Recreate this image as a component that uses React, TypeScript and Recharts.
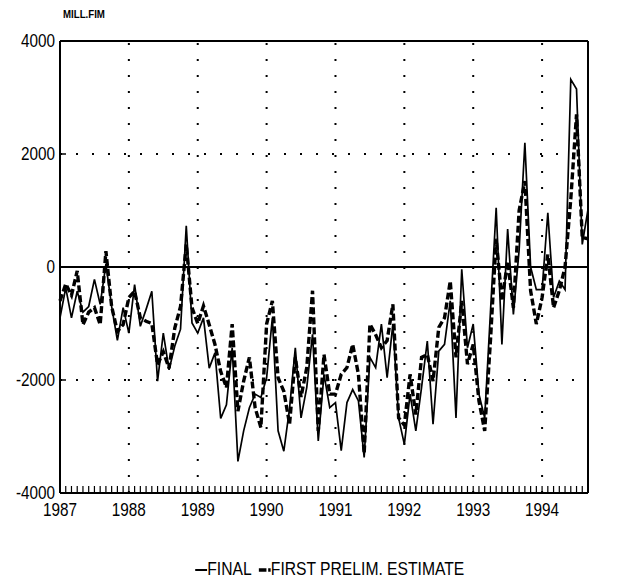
import React from 'react';
import { LineChart, Line, XAxis, YAxis, ReferenceLine, Legend } from 'recharts';

const years = ['1987', '1988', '1989', '1990', '1991', '1992', '1993', '1994'];

// monthly, Jan 1987 .. Sep 1994, mill. FIM
const finalValues = [
  -900, -370, -900, -430, -800, -700, -220, -660, 50, -700, -1300, -720,
  -1170, -310, -1050, -750, -430, -2020, -1170, -1820, -1400, -1100, 730, -990,
  -1170, -900, -1790, -1520, -2680, -2440, -1430, -3440, -2900, -2490, -2250, -2310,
  -1960, -900, -2900, -3260, -2500, -1430, -2670, -2130, -1190, -3080, -1900, -2490,
  -2400, -3250, -2400, -2170, -2370, -3370, -1600, -1780, -1010, -1960, -1010, -2670,
  -3140, -2250, -2900, -2130, -1310, -2780, -1490, -1370, -600, -2670, -40, -1430,
  -1010, -2250, -2670, -800, 1050, -1370, 670, -840, 300, 2200, 0, -400,
  -400, 960, -540, -250, -400, 3320, 3150, 400, 1020,
];

const prelimValues = [
  -600, -300, -500, -70, -1020, -800, -720, -1020, 280, -700, -1140, -1020,
  -540, -430, -900, -960, -1000, -1730, -1500, -1790, -1080, -700, 400, -720,
  -1000, -690, -1020, -1370, -1850, -2130, -1010, -2550, -2020, -1600, -2490, -2840,
  -1010, -600, -1960, -2200, -2780, -1600, -2300, -1780, -420, -2900, -1550, -2250,
  -2250, -1900, -1780, -1370, -1900, -3300, -1010, -1200, -1430, -1300, -660, -2670,
  -2800, -1900, -2610, -1600, -1550, -2020, -1070, -900, -250, -1600, -600, -1720,
  -1370, -2370, -2900, -1310, 500, -600, 100, -720, 1000, 1520, -420, -1010,
  -540, 220, -720, -420, 0, 1200, 2700, 520, 500,
];

const yTicks = [-4000, -2000, 0, 2000, 4000];

const data = finalValues.map((v, i) => ({ m: i, final: v, prelim: prelimValues[i] }));
const monthTicks = data.map(d => d.m);
const yearPos = years.map((_, k) => k * 12);

const FONT = "'Liberation Sans', Arial, sans-serif";
const SQUEEZE = 0.85;

// condensed tick text, like the old typewriter-ish labels
const NarrowTick = (props: any) => {
  const { x, y, payload, anchor, dy, fmt } = props;
  const label = fmt ? fmt(payload.value) : String(payload.value);
  if (!label) return null;
  return (
    <text transform={`translate(${x},${y}) scale(${SQUEEZE},1)`} textAnchor={anchor} dy={dy} fill="#000" fontFamily={FONT} fontSize={18}>
      {label}
    </text>
  );
};

const yearLabel = (m: number) => (m % 12 === 0 ? years[m / 12] : '');

const LegendContent = () => (
  <div style={{ display: 'flex', justifyContent: 'center', paddingTop: 36, paddingLeft: 24 }}>
    <div style={{ display: 'flex', alignItems: 'center', transform: 'scaleX(0.87)', fontFamily: FONT, fontSize: 18, color: '#000', whiteSpace: 'nowrap' }}>
      <svg width={14} height={10}><line x1={0} y1={5} x2={14} y2={5} stroke="#000" strokeWidth={1.8} /></svg>
      <span style={{ marginRight: 8 }}>FINAL</span>
      <svg width={14} height={10}><line x1={0} y1={5} x2={14} y2={5} stroke="#000" strokeWidth={3.4} strokeDasharray="9 2" /></svg>
      <span>FIRST PRELIM. ESTIMATE</span>
    </div>
  </div>
);

export default function App() {
  return (
    <div style={{ position: 'absolute', left: 0, top: 0, width: 636, height: 586, background: '#fff' }}>
      <div style={{ position: 'absolute', left: 63, top: 8, fontFamily: FONT, fontSize: 11, fontWeight: 'bold', transform: 'scaleX(0.88)', transformOrigin: 'left top' }}>
        MILL.FIM
      </div>
      <LineChart width={636} height={586} data={data} margin={{ top: 41, right: 0, bottom: 8, left: 0 }}>
        <XAxis
          dataKey="m"
          type="number"
          domain={[0, 92]}
          ticks={monthTicks}
          interval={0}
          tickSize={-7}
          tickMargin={17}
          height={30}
          axisLine={{ stroke: '#000', strokeWidth: 2 }}
          tickLine={{ stroke: '#000', strokeWidth: 1.2 }}
          tick={<NarrowTick anchor="middle" dy="0.71em" fmt={yearLabel} />}
        />
        <YAxis
          yAxisId="l"
          domain={[-4000, 4000]}
          ticks={yTicks}
          width={60}
          tickSize={-6}
          tickMargin={11}
          axisLine={{ stroke: '#000', strokeWidth: 2 }}
          tickLine={{ stroke: '#000', strokeWidth: 1.5 }}
          tick={<NarrowTick anchor="end" dy="0.355em" />}
        />
        <YAxis
          yAxisId="r"
          orientation="right"
          domain={[-4000, 4000]}
          ticks={yTicks}
          width={48}
          tickSize={-6}
          tickMargin={12}
          axisLine={{ stroke: '#000', strokeWidth: 2 }}
          tickLine={{ stroke: '#000', strokeWidth: 1.5 }}
          tick={<NarrowTick anchor="start" dy="0.355em" />}
        />
        <ReferenceLine yAxisId="l" y={4000} stroke="#000" strokeWidth={2} />
        <ReferenceLine yAxisId="l" y={2000} stroke="#000" strokeWidth={2} strokeDasharray="2 14" />
        <ReferenceLine yAxisId="l" y={-2000} stroke="#000" strokeWidth={2} strokeDasharray="2 14" />
        {yearPos.slice(1).map(p => (
          <ReferenceLine key={p} yAxisId="l" x={p} stroke="#000" strokeWidth={2} strokeDasharray="2 14" />
        ))}
        <ReferenceLine yAxisId="l" y={0} stroke="#000" strokeWidth={2} />
        <Line yAxisId="l" type="linear" dataKey="prelim" stroke="#000" strokeWidth={3.4} strokeDasharray="7 3" dot={false} isAnimationActive={false} />
        <Line yAxisId="l" type="linear" dataKey="final" stroke="#000" strokeWidth={1.7} dot={false} isAnimationActive={false} />
        <Legend verticalAlign="bottom" height={55} content={<LegendContent />} />
      </LineChart>
    </div>
  );
}
